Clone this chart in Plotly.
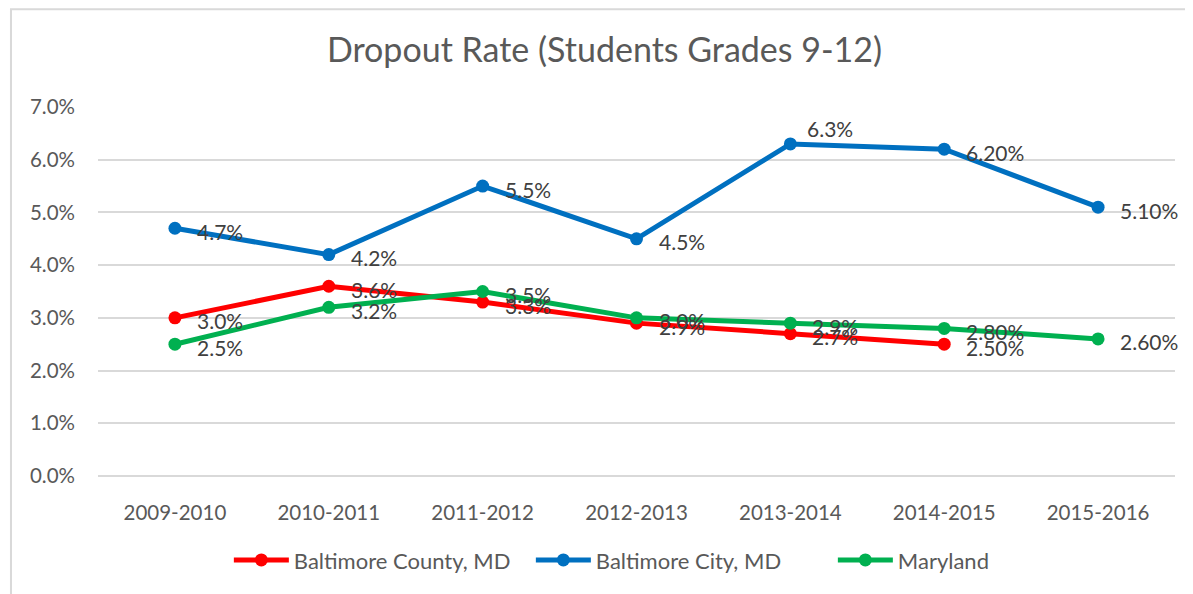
import plotly.graph_objects as go

years = ["2009-2010", "2010-2011", "2011-2012", "2012-2013", "2013-2014", "2014-2015", "2015-2016"]

county = [3.0, 3.6, 3.3, 2.9, 2.7, 2.5, None]
county_labels = ["3.0%", "3.6%", "3.3%", "2.9%", "2.7%", "2.50%", ""]

city = [4.7, 4.2, 5.5, 4.5, 6.3, 6.2, 5.1]
city_labels = ["4.7%", "4.2%", "5.5%", "4.5%", "6.3%", "6.20%", "5.10%"]

maryland = [2.5, 3.2, 3.5, 3.0, 2.9, 2.8, 2.6]
maryland_labels = ["2.5%", "3.2%", "3.5%", "3.0%", "2.9%", "2.80%", "2.60%"]

FONT = "Lato"
GREY = "#595959"

series = [
    ("Baltimore County, MD", county, county_labels, "#FF0000"),
    ("Baltimore City, MD", city, city_labels, "#0070C0"),
    ("Maryland", maryland, maryland_labels, "#00B050"),
]

fig = go.Figure()
annotations = []
for name, vals, labels, color in series:
    fig.add_trace(
        go.Scatter(
            x=years,
            y=vals,
            name=name,
            mode="lines+markers",
            line={"color": color, "width": 5},
            marker={"color": color, "size": 13},
            connectgaps=False,
        )
    )
    # data labels to the right of each point, like Excel
    for i, (yr, v, lab) in enumerate(zip(years, vals, labels)):
        if v is None or not lab:
            continue
        above = name == "Baltimore City, MD" and i == 4
        annotations.append(
            {
                "x": yr,
                "y": v,
                "text": lab,
                "showarrow": False,
                "xanchor": "left",
                "yanchor": "middle",
                "xshift": 15 if above else 20,
                "yshift": 15 if above else -3,
                "font": {"family": FONT, "size": 21, "color": "#404040"},
            }
        )

# page body adds an 8px offset, so margins are shifted by that amount
fig.update_layout(
    width=1193,
    height=594,
    plot_bgcolor="white",
    paper_bgcolor="white",
    margin={"t": 99, "l": 90, "r": 26, "b": 126},
    font={"family": FONT, "color": GREY},
    title={
        "text": "Dropout Rate (Students Grades 9-12)",
        "x": 0.5,
        "xanchor": "center",
        "y": 0.929,
        "yanchor": "middle",
        "font": {"family": FONT, "size": 34, "color": GREY},
    },
    legend={
        "orientation": "h",
        "x": 0.1215,
        "xanchor": "left",
        "y": -0.228,
        "yanchor": "middle",
        "font": {"family": FONT, "size": 22, "color": GREY},
        "itemwidth": 55,
        "entrywidth": 232,
    },
    showlegend=True,
    annotations=annotations,
    shapes=[
        {
            "type": "rect",
            "xref": "paper",
            "yref": "paper",
            "x0": -0.0808,
            "x1": 1.1,
            "y0": -0.4,
            "y1": 1.265,
            "line": {"color": "#D9D9D9", "width": 2},
            "layer": "below",
        }
    ],
)

fig.update_xaxes(
    showgrid=False,
    showline=False,
    ticks="",
    ticklabelstandoff=22,
    tickfont={"family": FONT, "size": 20.5, "color": GREY},
    range=[-0.5, 6.5],
)
fig.update_yaxes(
    range=[0, 7],
    dtick=1,
    tickformat=".1f",
    ticksuffix="%",
    showgrid=True,
    gridcolor="#D9D9D9",
    gridwidth=1.5,
    zeroline=True,
    zerolinecolor="#D9D9D9",
    zerolinewidth=1.5,
    ticks="",
    ticklabelstandoff=22,
    tickfont={"family": FONT, "size": 20.5, "color": GREY},
)

fig.write_html("out.html")
